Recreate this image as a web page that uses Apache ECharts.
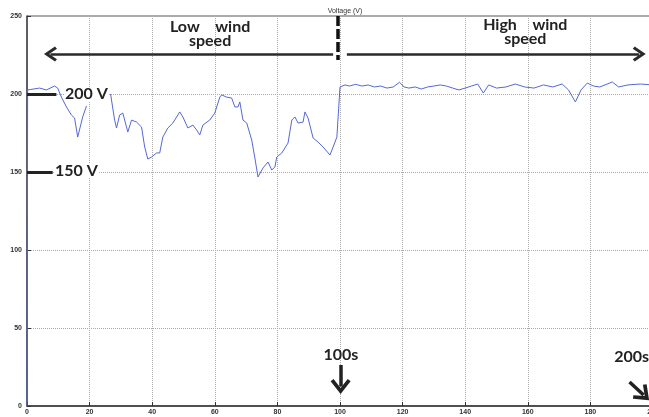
<!DOCTYPE html>
<html>
<head>
<meta charset="utf-8">
<script src="https://cdn.jsdelivr.net/npm/echarts@6/dist/echarts.min.js"></script>
<style>html,body{margin:0;padding:0;background:#fff}#c{width:649px;height:417px}</style>
</head>
<body>
<div id="c"></div>
<script>
// time (s)
const timeS = [0, 0.2, 4, 6.2, 8.8, 9.8, 11, 12.6, 14.2, 15.2, 16.2, 16.8, 17.8, 19, 22,
  26.7, 28, 28.6, 29.6, 30.6, 31.8, 32.2, 33.4, 35, 36.6, 37.6, 38.6, 39.8, 41.4, 42.4, 43.4, 45, 46.6,
  48.8, 49.8, 51.4, 53, 54.2, 55.2, 56.2, 58.4, 60, 61.6, 62.2, 63.8, 65.4, 66.4, 67.4, 68, 69, 70.2,
  71.8, 72.8, 73.8, 75.4, 77, 78.2, 79.2, 79.8, 81.4, 82.4, 83.4, 84.6, 85.6, 86.6, 88.2, 88.8, 89.8,
  91.4, 93, 94.6, 96.8, 97.8, 99, 99.4, 100, 101.6, 103, 105, 107, 109, 111, 113, 115, 117, 119,
  120.5, 122, 124, 126, 128, 130, 132, 134, 136, 138, 140, 142, 144, 145.8, 147.5, 150, 153, 156,
  159, 162, 165, 168, 171, 173, 175.2, 177, 179, 181, 183, 187, 189, 192, 196, 200];
// voltage (V)
const voltageV = [0, 202.6, 203.8, 202.6, 205.1, 203.8, 198, 191.7, 186.5, 184.6, 172.4, 172.4, 185.3, 192.3, null,
  200, 183.3, 178.2, 186.5, 187.8, 178.8, 175.6, 183.3, 182, 178.8, 166, 158.3, 159.6, 162.2, 162.2, 172.4, 178.2, 181.4,
  188.5, 185.3, 178.2, 180.1, 176.9, 173.7, 180.1, 183.3, 187.8, 198, 199.4, 198, 197.4, 191.7, 191.7, 194.9, 183.3, 181.4,
  170.5, 159, 146.8, 152.6, 156.4, 151.3, 153.2, 159.6, 162.2, 165.4, 168.6, 183.3, 185.3, 181.4, 182, 188.5, 184.6,
  171.8, 169.2, 166, 160.9, 166, 172.4, 171.8, 204.5, 205.8, 205.1, 206.2, 205.1, 205.8, 204.5, 205.1, 203.8, 204.5, 207.5,
  204.5, 203.8, 204.5, 203.2, 204.5, 205.1, 205.8, 205.1, 203.8, 202.6, 203.8, 205.1, 206.4, 200.6, 205.8, 203.8, 204.5, 206.4,
  204.5, 203.8, 205.8, 204.5, 206.4, 202.6, 194.9, 202.6, 207, 205.1, 204.5, 207.7, 204.5, 205.8, 206.4, 205.8];
const xTicks = [0, 20, 40, 60, 80, 100, 120, 140, 160, 180, 200];
const yTicks = [0, 50, 100, 150, 200, 250];

const chevron = 'path://M7.5,0 L15,11 L12.8,13 L7.5,5.2 L2.2,13 L0,11 Z';
const ink = '#2a2a2a';
const txt = {fontFamily: 'Lato', fontWeight: 'bold', fontSize: 16, color: '#222'};

const chart = echarts.init(document.getElementById('c'), null, {renderer: 'canvas'});
chart.setOption({
  animation: false,
  backgroundColor: '#fff',
  title: {text: 'Voltage (V)', left: 340, textAlign: 'center', top: 3,
    textStyle: {fontSize: 7, fontWeight: 'normal', color: '#333', fontFamily: 'Liberation Sans'}},
  grid: {left: 27, right: -4, top: 16, bottom: 11, show: true, borderColor: '#555', borderWidth: 1,
    containLabel: false, outerBoundsMode: 'none'},
  xAxis: {type: 'value', min: xTicks[0], max: xTicks[xTicks.length - 1], interval: 20,
    axisLine: {lineStyle: {color: '#333', width: 1.5}},
    axisTick: {inside: true, length: 4, lineStyle: {color: '#333'}},
    axisLabel: {fontSize: 7, fontWeight: 'bold', color: '#333', margin: 3, fontFamily: 'Liberation Sans'},
    splitLine: {show: true, lineStyle: {type: 'dotted', color: '#aaa', width: 1}}},
  yAxis: {type: 'value', min: yTicks[0], max: yTicks[yTicks.length - 1], interval: 50,
    axisLine: {show: true, lineStyle: {color: '#445', width: 1.5}},
    axisTick: {show: true, inside: true, length: 4, lineStyle: {color: '#333'}},
    axisLabel: {fontSize: 7, fontWeight: 'bold', color: '#333', margin: 5, fontFamily: 'Liberation Sans'},
    splitLine: {show: true, lineStyle: {type: 'dotted', color: '#aaa', width: 1}}},
  series: [{
    type: 'line',
    data: timeS.map((t, i) => [t, voltageV[i]]),
    showSymbol: false,
    connectNulls: false,
    lineStyle: {color: '#5468d4', width: 1},
    markLine: {
      silent: true,
      symbol: 'none',
      label: {show: false},
      animation: false,
      lineStyle: {color: ink, width: 2.5, type: 'solid'},
      data: [
        [{coord: [7.5, 225.6], symbol: chevron, symbolSize: [15, 13]}, {coord: [97.8, 225.6], symbol: 'none'}],
        [{coord: [102.2, 225.6], symbol: 'none'}, {coord: [195.6, 225.6], symbol: chevron, symbolSize: [15, 13]}],
        [{coord: [99.4, 250], symbol: 'none', lineStyle: {color: '#111', width: 3.5, type: [10, 3]}},
         {coord: [99.4, 221.8], symbol: 'none'}],
        [{coord: [0, 200], symbol: 'none', lineStyle: {color: '#222', width: 3}}, {coord: [9.4, 200], symbol: 'none'}],
        [{coord: [0, 150], symbol: 'none', lineStyle: {color: '#222', width: 3}}, {coord: [8.2, 150], symbol: 'none'}],
        [{coord: [100.2, 26.3], symbol: 'none', lineStyle: {color: '#222', width: 3.5}},
         {coord: [100.2, 12.5], symbol: chevron, symbolSize: [20, 15]}],
        [{coord: [192.5, 15.4], symbol: 'none', lineStyle: {color: '#222', width: 3.5}},
         {coord: [197.0, 7.0], symbol: chevron, symbolSize: [20, 15]}]
      ]
    },
    markPoint: {
      silent: true,
      symbol: 'circle',
      symbolSize: 1,
      itemStyle: {color: 'rgba(0,0,0,0)'},
      animation: false,
      label: Object.assign({show: true, position: 'inside', lineHeight: 14, align: 'center', verticalAlign: 'middle'}, txt),
      data: [
        {coord: [58.5, 238.5], value: 0, label: {formatter: 'Low    wind\nspeed'}},
        {coord: [159.2, 239.7], value: 0, label: {formatter: 'High    wind\nspeed'}},
        {coord: [19, 200], value: 0, label: {formatter: '200 V', backgroundColor: '#fff', padding: [0, 1]}},
        {coord: [15.8, 150.6], value: 0, label: {formatter: '150 V', backgroundColor: '#fff', padding: [0, 1]}},
        {coord: [100.3, 32.7], value: 0, label: {formatter: '100s'}},
        {coord: [193.2, 31.4], value: 0, label: {formatter: '200s'}}
      ]
    }
  }]
});
</script>
</body>
</html>
